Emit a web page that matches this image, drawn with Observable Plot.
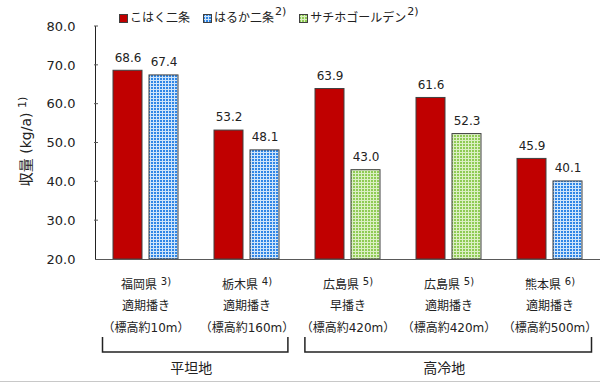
<!DOCTYPE html>
<html>
<head>
<meta charset="utf-8">
<script src="https://cdn.jsdelivr.net/npm/d3@7"></script>
<script src="https://cdn.jsdelivr.net/npm/@observablehq/plot@0.6"></script>
<style>
  body { margin: 0; background: #fff; }
  #wrap { position: relative; width: 600px; height: 382px; font-family: "DejaVu Sans", "Noto Sans CJK JP", sans-serif; color: #222; }
  #legend { position: absolute; left: 119px; top: 9px; height: 18px; display: flex; gap: 13px; font-size: 12px; line-height: 18px; }
  #legend .item { display: flex; align-items: center; gap: 2px; white-space: nowrap; }
  #legend sup { font-size: 11px; line-height: 0; position: relative; top: -2px; margin-left: 1px; }
  #legend svg { display: block; }
  #border { position: absolute; left: 0; right: 0; bottom: 0; height: 1px; background: #c8c8c8; }
</style>
</head>
<body>
<div id="wrap"><div id="legend"></div><div id="border"></div></div>
<script>
// ---- data ----
const sites = ["福岡県", "栃木県", "広島県", "広島県", "熊本県"];
const siteNotes = ["3)", "4)", "5)", "5)", "6)"];
const sowing = ["適期播き", "適期播き", "早播き", "適期播き", "適期播き"];
const elevation = ["（標高約10m）", "（標高約160m）", "（標高約420m）", "（標高約420m）", "（標高約500m）"];
const regionOfSite = ["平坦地", "平坦地", "高冷地", "高冷地", "高冷地"];
const regions = ["平坦地", "高冷地"];
const varieties = ["こはく二条", "はるか二条", "サチホゴールデン"];
const varietyNotes = ["", "2)", "2)"];
const kohakuValues = [68.6, 53.2, 63.9, 61.6, 45.9];
const comparisonVariety = ["はるか二条", "はるか二条", "サチホゴールデン", "サチホゴールデン", "はるか二条"];
const comparisonValues = [67.4, 48.1, 43.0, 52.3, 40.1];
const yDomain = [20, 80];
const yTicks = [20, 30, 40, 50, 60, 70, 80];
const yLabelText = "収量 (kg/a)";
const yLabelNote = "1)";

// ---- helpers ----
const supMap = {"0":"⁰","1":"¹","2":"²","3":"³","4":"⁴","5":"⁵","6":"⁶","7":"⁷","8":"⁸","9":"⁹","(":"⁽",")":"⁾"};
const unSup = Object.fromEntries(Object.entries(supMap).map(([a, b]) => [b, a]));
const toSup = s => [...s].map(c => supMap[c] || c).join("");
const isSup = c => c in unSup;

const siteKeys = sites.map((s, i) => `${s} ${toSup(siteNotes[i])}\n${sowing[i]}\n${elevation[i]}`);
const rows = [];
sites.forEach((s, i) => {
  rows.push({key: siteKeys[i], slot: 0, variety: varieties[0], value: kohakuValues[i]});
  rows.push({key: siteKeys[i], slot: 1, variety: comparisonVariety[i], value: comparisonValues[i]});
});

const fills = ["#c00000", "url(#pat-blue)", "url(#pat-green)"];
const font = '"DejaVu Sans", "Noto Sans CJK JP", sans-serif';

const plot = Plot.plot({
  width: 600,
  height: 382,
  marginTop: 26,
  marginBottom: 123,
  marginLeft: 94,
  marginRight: 0,
  style: {fontFamily: font, fontSize: "13px", color: "#222", background: "transparent"},
  fx: {domain: siteKeys, padding: 0, axis: null},
  x: {domain: [0, 1], type: "band", paddingInner: 0.19, paddingOuter: 0.46, axis: null},
  y: {
    domain: yDomain,
    ticks: yTicks,
    tickFormat: d => d.toFixed(1),
    tickSize: 0,
    tickPadding: 20,
    line: true,
    label: null
  },
  color: {domain: varieties, range: fills},
  marks: [
    Plot.barY(rows, {fx: "key", x: "slot", y1: yDomain[0], y2: "value", fill: "variety", stroke: "#404040", strokeWidth: 1}),
    Plot.text(rows, {fx: "key", x: "slot", y: "value", text: d => d.value.toFixed(1), dy: -13, fontSize: 12, fill: "#222"}),
    Plot.text(siteKeys, {fx: d => d, text: d => d, frameAnchor: "bottom", lineAnchor: "top", dy: 14, lineHeight: 1.8, fontSize: 12, fill: "#222"}),
    Plot.ruleY([yDomain[0]], {stroke: "#595959", strokeWidth: 1.2})
  ]
});

const svg = d3.select(plot);

// turn unicode superscripts into raised smaller text
svg.selectAll("text, tspan").each(function() {
  if (this.childElementCount) return;
  const s = this.textContent;
  if (![...s].some(isSup)) return;
  const el = d3.select(this);
  el.text(null);
  let buf = "", sup = false;
  const flush = () => {
    if (!buf) return;
    const t = el.append("tspan").text(buf);
    if (sup) t.attr("font-size", 10).attr("baseline-shift", "40%");
    buf = "";
  };
  for (const c of s) {
    const cs = isSup(c);
    if (cs !== sup) { flush(); sup = cs; }
    buf += cs ? unSup[c] : c;
  }
  flush();
});

// pattern definitions
const defs = svg.insert("defs", ":first-child");
const pb = defs.append("pattern").attr("id", "pat-blue").attr("patternUnits", "userSpaceOnUse").attr("width", 3).attr("height", 3);
pb.append("rect").attr("width", 3).attr("height", 3).attr("fill", "#cfe5fa");
pb.append("rect").attr("width", 2).attr("height", 2).attr("fill", "#2f86e6");
const pg = defs.append("pattern").attr("id", "pat-green").attr("patternUnits", "userSpaceOnUse").attr("width", 3).attr("height", 3);
pg.append("rect").attr("width", 3).attr("height", 3).attr("fill", "#dcefc4");
pg.append("rect").attr("width", 2).attr("height", 2).attr("fill", "#8fcb55");

// inward y ticks
const yS = plot.scale("y");
const yScale = d3.scaleLinear().domain(yS.domain).range(yS.range);
const xAxis = 94;
svg.append("g").attr("stroke", "#595959").attr("stroke-width", 1)
  .selectAll("line").data(yTicks.slice(1)).join("line")
  .attr("x1", xAxis).attr("x2", xAxis + 4)
  .attr("y1", d => yScale(d)).attr("y2", d => yScale(d));

// y axis title
const yl = svg.append("text")
  .attr("transform", `translate(26,${(yScale(yDomain[0]) + yScale(yDomain[1])) / 2 - 1}) rotate(-90)`)
  .attr("text-anchor", "middle").attr("dy", "0.35em")
  .attr("font-size", 14).attr("fill", "#222");
yl.append("tspan").text(yLabelText + " ");
yl.append("tspan").attr("font-size", 11).attr("baseline-shift", "45%").text(yLabelNote);

// region brackets
const fxS = plot.scale("fx");
const fx = d3.scaleBand().domain(fxS.domain).range(fxS.range)
  .paddingInner(fxS.paddingInner || 0).paddingOuter(fxS.paddingOuter || 0).align(fxS.align ?? 0.5);
const inset = 8.5, yTop = 337, yBot = 352;
const bg = svg.append("g");
regions.forEach(r => {
  const keys = siteKeys.filter((k, i) => regionOfSite[i] === r);
  const x1 = fx(keys[0]) + inset;
  const x2 = fx(keys[keys.length - 1]) + fx.bandwidth() - inset;
  bg.append("path").attr("d", `M${x1},${yTop}V${yBot}H${x2}V${yTop}`)
    .attr("fill", "none").attr("stroke", "#222").attr("stroke-width", 1.5);
  bg.append("text").attr("x", (x1 + x2) / 2 - 4).attr("y", 368).attr("dy", "0.35em")
    .attr("text-anchor", "middle").attr("font-size", 14).attr("fill", "#222").text(r);
});

const wrap = document.getElementById("wrap");
wrap.insertBefore(plot, wrap.firstChild);
plot.style.position = "absolute"; plot.style.left = "0"; plot.style.top = "0";

// legend
const legend = d3.select("#legend");
varieties.forEach((v, i) => {
  const item = legend.append("div").attr("class", "item");
  const sw = item.append("svg").attr("width", 9).attr("height", 9);
  sw.append("rect").attr("x", 0.5).attr("y", 0.5).attr("width", 8).attr("height", 8)
    .attr("fill", fills[i]).attr("stroke", "#404040").attr("stroke-width", 1);
  const t = item.append("span").text(v);
  if (varietyNotes[i]) t.append("sup").text(varietyNotes[i]);
});
</script>
</body>
</html>
